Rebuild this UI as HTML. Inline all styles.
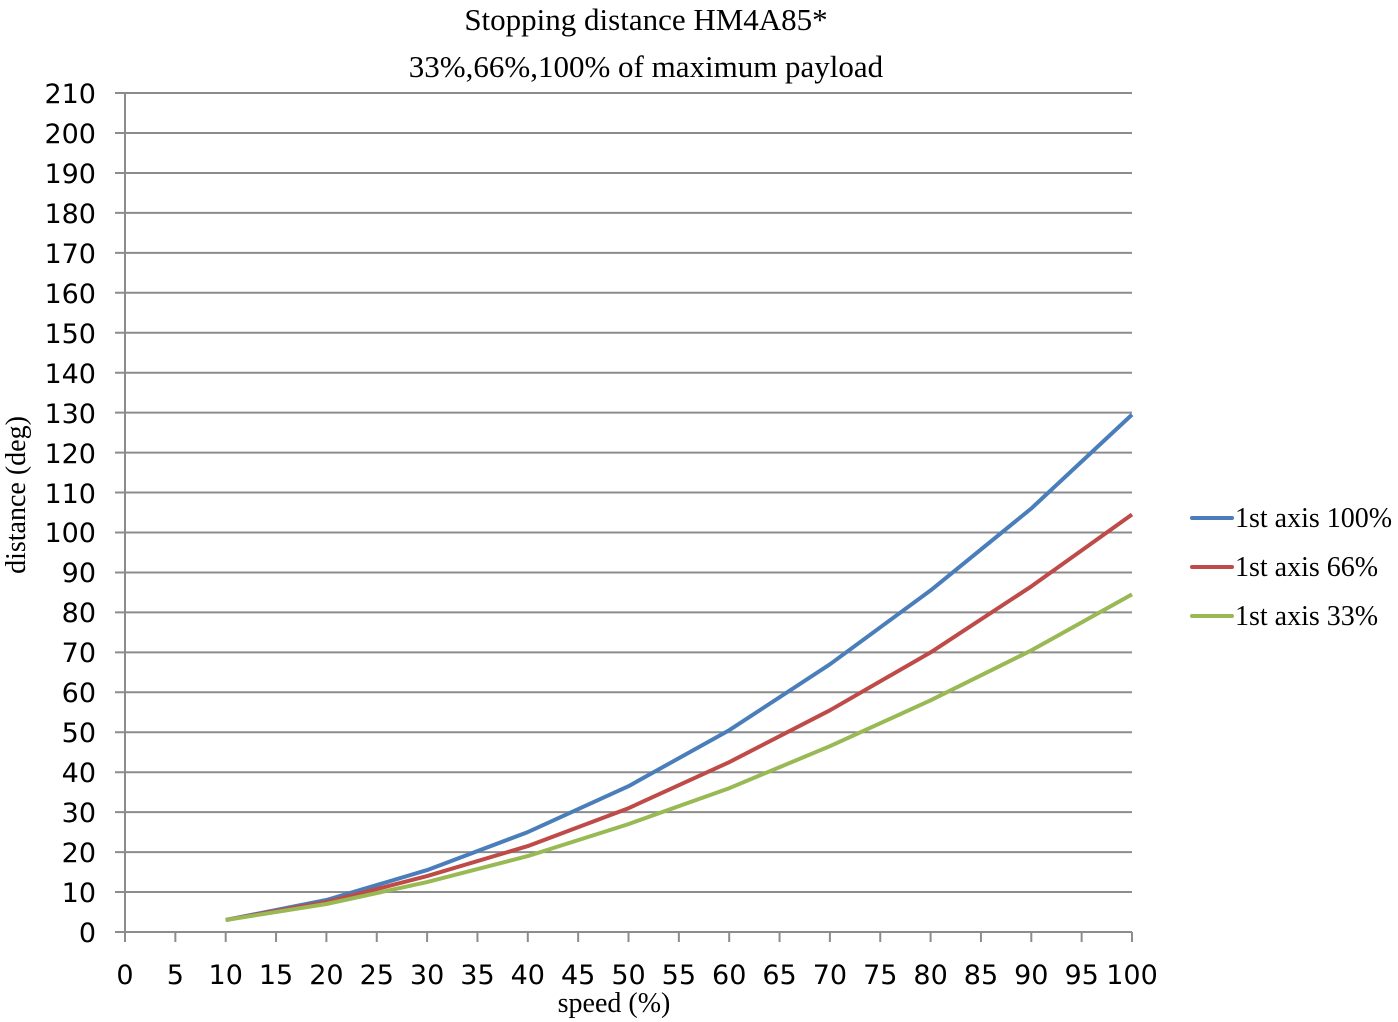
<!DOCTYPE html>
<html><head><meta charset="utf-8"><style>html,body{margin:0;padding:0;background:#fff}svg{display:block}</style></head>
<body>
<svg width="1398" height="1022" xmlns="http://www.w3.org/2000/svg">
<rect width="1398" height="1022" fill="#fff"/>
<g font-family="Liberation Serif, serif" fill="#000" text-anchor="middle">
<text x="646" y="30" font-size="31">Stopping distance HM4A85*</text>
<text x="646" y="77" font-size="31">33%,66%,100% of maximum payload</text>
<text x="614" y="1012" font-size="28">speed (%)</text>
<text transform="translate(25,495) rotate(-90)" font-size="28">distance (deg)</text>
</g>
<g stroke="#8c8c8c" stroke-width="2">
<line x1="115" y1="932" x2="1132" y2="932"/>
<line x1="115" y1="892.05" x2="1132" y2="892.05"/>
<line x1="115" y1="852.1" x2="1132" y2="852.1"/>
<line x1="115" y1="812.15" x2="1132" y2="812.15"/>
<line x1="115" y1="772.2" x2="1132" y2="772.2"/>
<line x1="115" y1="732.25" x2="1132" y2="732.25"/>
<line x1="115" y1="692.3" x2="1132" y2="692.3"/>
<line x1="115" y1="652.35" x2="1132" y2="652.35"/>
<line x1="115" y1="612.4" x2="1132" y2="612.4"/>
<line x1="115" y1="572.45" x2="1132" y2="572.45"/>
<line x1="115" y1="532.5" x2="1132" y2="532.5"/>
<line x1="115" y1="492.55" x2="1132" y2="492.55"/>
<line x1="115" y1="452.6" x2="1132" y2="452.6"/>
<line x1="115" y1="412.65" x2="1132" y2="412.65"/>
<line x1="115" y1="372.7" x2="1132" y2="372.7"/>
<line x1="115" y1="332.75" x2="1132" y2="332.75"/>
<line x1="115" y1="292.8" x2="1132" y2="292.8"/>
<line x1="115" y1="252.85" x2="1132" y2="252.85"/>
<line x1="115" y1="212.9" x2="1132" y2="212.9"/>
<line x1="115" y1="172.95" x2="1132" y2="172.95"/>
<line x1="115" y1="133" x2="1132" y2="133"/>
<line x1="115" y1="93.05" x2="1132" y2="93.05"/>
<line x1="125" y1="93" x2="125" y2="942"/>
<line x1="175.35" y1="932" x2="175.35" y2="942"/>
<line x1="225.7" y1="932" x2="225.7" y2="942"/>
<line x1="276.05" y1="932" x2="276.05" y2="942"/>
<line x1="326.4" y1="932" x2="326.4" y2="942"/>
<line x1="376.75" y1="932" x2="376.75" y2="942"/>
<line x1="427.1" y1="932" x2="427.1" y2="942"/>
<line x1="477.45" y1="932" x2="477.45" y2="942"/>
<line x1="527.8" y1="932" x2="527.8" y2="942"/>
<line x1="578.15" y1="932" x2="578.15" y2="942"/>
<line x1="628.5" y1="932" x2="628.5" y2="942"/>
<line x1="678.85" y1="932" x2="678.85" y2="942"/>
<line x1="729.2" y1="932" x2="729.2" y2="942"/>
<line x1="779.55" y1="932" x2="779.55" y2="942"/>
<line x1="829.9" y1="932" x2="829.9" y2="942"/>
<line x1="880.25" y1="932" x2="880.25" y2="942"/>
<line x1="930.6" y1="932" x2="930.6" y2="942"/>
<line x1="980.95" y1="932" x2="980.95" y2="942"/>
<line x1="1031.3" y1="932" x2="1031.3" y2="942"/>
<line x1="1081.65" y1="932" x2="1081.65" y2="942"/>
<line x1="1132" y1="932" x2="1132" y2="942"/>
</g>
<g font-family="DejaVu Sans, Verdana, sans-serif" font-size="27" fill="#000" text-anchor="end">
<text x="96" y="942">0</text>
<text x="96" y="902">10</text>
<text x="96" y="862">20</text>
<text x="96" y="822">30</text>
<text x="96" y="782">40</text>
<text x="96" y="742">50</text>
<text x="96" y="702">60</text>
<text x="96" y="662">70</text>
<text x="96" y="622">80</text>
<text x="96" y="582">90</text>
<text x="96" y="542">100</text>
<text x="96" y="503">110</text>
<text x="96" y="463">120</text>
<text x="96" y="423">130</text>
<text x="96" y="383">140</text>
<text x="96" y="343">150</text>
<text x="96" y="303">160</text>
<text x="96" y="263">170</text>
<text x="96" y="223">180</text>
<text x="96" y="183">190</text>
<text x="96" y="143">200</text>
<text x="96" y="103">210</text>
</g>
<g font-family="DejaVu Sans, Verdana, sans-serif" font-size="27" fill="#000" text-anchor="middle">
<text x="125" y="984">0</text>
<text x="175.35" y="984">5</text>
<text x="225.7" y="984">10</text>
<text x="276.05" y="984">15</text>
<text x="326.4" y="984">20</text>
<text x="376.75" y="984">25</text>
<text x="427.1" y="984">30</text>
<text x="477.45" y="984">35</text>
<text x="527.8" y="984">40</text>
<text x="578.15" y="984">45</text>
<text x="628.5" y="984">50</text>
<text x="678.85" y="984">55</text>
<text x="729.2" y="984">60</text>
<text x="779.55" y="984">65</text>
<text x="829.9" y="984">70</text>
<text x="880.25" y="984">75</text>
<text x="930.6" y="984">80</text>
<text x="980.95" y="984">85</text>
<text x="1031.3" y="984">90</text>
<text x="1081.65" y="984">95</text>
<text x="1132" y="984">100</text>
</g>
<polyline fill="none" stroke="#4a7ebb" stroke-width="4" stroke-linejoin="round" points="225.7,920 326.4,900 427.1,870.1 527.8,832.1 628.5,786.2 729.2,730.2 829.9,664.3 930.6,590.4 1031.3,508.5 1132,414.6"/>
<polyline fill="none" stroke="#be4b48" stroke-width="4" stroke-linejoin="round" points="225.7,920 326.4,902 427.1,876.1 527.8,846.1 628.5,808.2 729.2,762.2 829.9,710.3 930.6,652.4 1031.3,586.4 1132,514.5"/>
<polyline fill="none" stroke="#98b954" stroke-width="4" stroke-linejoin="round" points="225.7,920 326.4,904 427.1,882.1 527.8,856.1 628.5,824.1 729.2,788.2 829.9,746.2 930.6,700.3 1031.3,650.4 1132,594.4"/>
<g stroke-width="4" stroke-linecap="round">
<line x1="1192" y1="518" x2="1232" y2="518" stroke="#4a7ebb"/>
<line x1="1192" y1="567" x2="1232" y2="567" stroke="#be4b48"/>
<line x1="1192" y1="616" x2="1232" y2="616" stroke="#98b954"/>
</g>
<g font-family="Liberation Serif, serif" font-size="28" fill="#000">
<text x="1235" y="527">1st axis 100%</text>
<text x="1235" y="576">1st axis 66%</text>
<text x="1235" y="625">1st axis 33%</text>
</g>
</svg>
</body></html>
